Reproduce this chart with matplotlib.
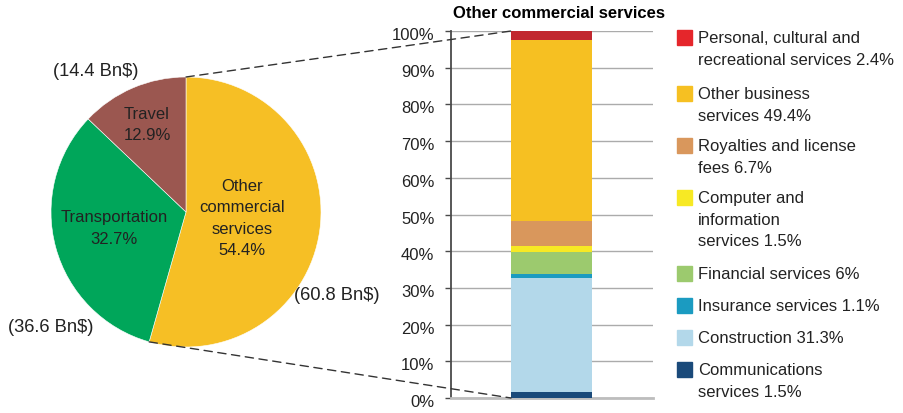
import matplotlib.pyplot as plt
import numpy as np
from matplotlib.patches import ConnectionPatch, Rectangle
from matplotlib.transforms import ScaledTranslation

plt.rcParams['font.family'] = ['Liberation Sans', 'DejaVu Sans']

# pie: share of commercial services
pie_names = ['Other\ncommercial\nservices', 'Transportation', 'Travel']
pie_share = [54.4, 32.7, 12.9]
pie_value = ['(60.8 Bn$)', '(36.6 Bn$)', '(14.4 Bn$)']

# stacked bar: breakdown of other commercial services (bottom to top)
bar_names = ['Communications\nservices', 'Construction', 'Insurance services',
             'Financial services', 'Computer and\ninformation\nservices',
             'Royalties and license\nfees', 'Other business\nservices',
             'Personal, cultural and\nrecreational services']
bar_share = [1.5, 31.3, 1.1, 6, 1.5, 6.7, 49.4, 2.4]
bar_labels = ['1.5%', '31.3%', '1.1%', '6%', '1.5%', '6.7%', '49.4%', '2.4%']

pie_colors = ['#f6bf25', '#00a65a', '#9b5750']
bar_colors = ['#1a4a7a', '#b3d8ea', '#1b9bc1', '#9cca6e', '#f7e924',
              '#d9975c', '#f6c022', '#c1282f']
txt = '#222222'
fs = 12
ls = 1.55

W, H = 904, 413
fig = plt.figure(figsize=(W / 100, H / 100), dpi=100)

def px(x0, y0, x1, y1):
    # pixel box (top-left origin) -> figure fraction rect
    return [x0 / W, (H - y1) / H, (x1 - x0) / W, (y1 - y0) / H]

# ---- pie
ax1 = fig.add_axes(px(51, 77, 321, 347))
ax1.pie(pie_share, colors=pie_colors, startangle=90, counterclock=False,
        wedgeprops={'edgecolor': 'white', 'linewidth': 0.4})
ax1.set_xlim(-1, 1)
ax1.set_ylim(-1, 1)
ax1.set_aspect('equal')
ax1.axis('off')

name_pos = [(0.415, -0.048), (-0.533, -0.122), (-0.289, 0.644)]
value_pos = [(1.116, -0.615), (-1.005, -0.852), (-0.667, 1.039)]
for i in range(3):
    ax1.text(name_pos[i][0], name_pos[i][1], '%s\n%.1f%%' % (pie_names[i], pie_share[i]),
             ha='center', va='center', fontsize=fs, color=txt, linespacing=ls)
    ax1.text(value_pos[i][0], value_pos[i][1], pie_value[i], ha='center', va='center',
             fontsize=13.2, color=txt, clip_on=False)

# ---- stacked bar
ax2 = fig.add_axes(px(451, 31, 653, 398))
bottom = 0
for i in range(len(bar_share)):
    ax2.bar(0, bar_share[i], width=1, bottom=bottom, color=bar_colors[i], zorder=3)
    bottom += bar_share[i]
ax2.set_xlim(-1.241, 1.253)
ax2.set_ylim(0, 100)
ax2.set_yticks(range(0, 101, 10))
ax2.set_yticklabels(['%d%%' % v for v in range(0, 101, 10)], fontsize=fs, color=txt)
ax2.set_xticks([])
ax2.yaxis.grid(True, color='#ababab', linewidth=1, zorder=0)
for s in ['top', 'right']:
    ax2.spines[s].set_visible(False)
ax2.spines['bottom'].set_color('#bdbdbd')
ax2.spines['bottom'].set_linewidth(2)
ax2.spines['left'].set_color('#4a4a4a')
ax2.spines['left'].set_linewidth(1.3)
ax2.tick_params(axis='y', length=4, width=1, color='#4a4a4a', pad=8)
off = ScaledTranslation(0, -3 / 100, fig.dpi_scale_trans)
for lab in ax2.get_yticklabels():
    lab.set_transform(lab.get_transform() + off)

fig.text(453 / W, 1 - 14 / H, 'Other commercial services', ha='left', va='center',
         fontsize=fs, fontweight='bold', color='black')

# connector lines between pie and bar
ang = np.radians(90 - 360 * pie_share[0] / 100)
p_bot = (np.cos(ang), np.sin(ang))
for a, b in [((0, 1), (-0.5, 100)), (p_bot, (-0.5, 0))]:
    con = ConnectionPatch(xyA=a, coordsA=ax1.transData, xyB=b, coordsB=ax2.transData,
                          color='#333333', linewidth=1, linestyle=(0, (6, 4)))
    fig.add_artist(con)

# ---- legend (top to bottom)
sq_top = [30, 86, 138, 190, 266, 298, 330, 362]
leg_colors = bar_colors[::-1]
leg_colors[0] = '#e5262b'
names = bar_names[::-1]
labs = bar_labels[::-1]
for i in range(len(names)):
    y0 = sq_top[i]
    fig.add_artist(Rectangle((677 / W, 1 - (y0 + 15) / H), 15 / W, 15 / H,
                             transform=fig.transFigure, color=leg_colors[i]))
    fig.text(698 / W, 1 - (y0 + 1) / H, names[i] + ' ' + labs[i], ha='left', va='top',
             fontsize=fs, color=txt, linespacing=ls)

fig.savefig('out.png', dpi=100)
